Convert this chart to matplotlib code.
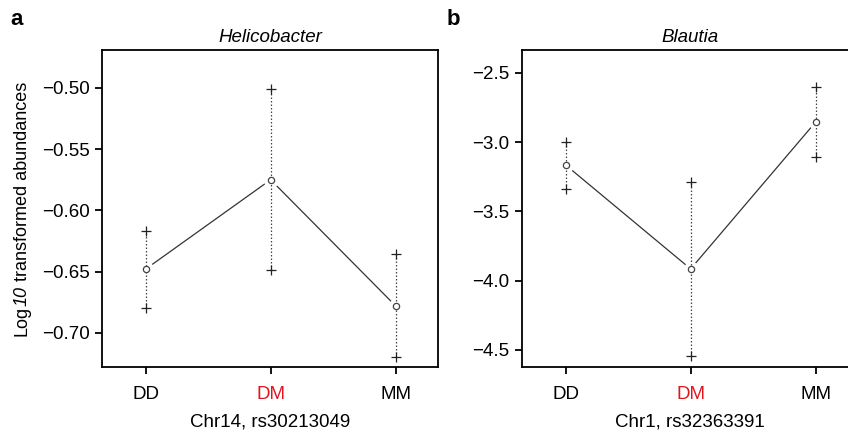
import numpy as np
import matplotlib.pyplot as plt

plt.rcParams['font.family'] = ['Liberation Sans', 'DejaVu Sans']

genotypes = ['DD', 'DM', 'MM']

# panel a - Helicobacter
heli_mean = [-0.648, -0.575, -0.678]
heli_upper = [-0.617, -0.501, -0.636]
heli_lower = [-0.680, -0.649, -0.720]

# panel b - Blautia
blau_mean = [-3.165, -3.915, -2.855]
blau_upper = [-3.00, -3.29, -2.60]
blau_lower = [-3.335, -4.545, -3.11]

fig = plt.figure(figsize=(8.48, 4.37), dpi=100)
ax1 = fig.add_axes([0.1203, 0.1602, 0.3962, 0.7254])
ax2 = fig.add_axes([0.6156, 0.1602, 0.3962, 0.7254])


def draw(ax, mean, upper, lower, title, xlabel, ylim, yticks, fmt):
    x = np.arange(1, len(mean) + 1)
    ax.plot(x, mean, color='#333333', lw=0.9, zorder=2)
    ax.plot(x, mean, 'o', ms=10, mfc='white', mec='white', zorder=3)
    ax.vlines(x, lower, upper, colors='#444444', linestyles=(0, (1.2, 1.6)), lw=0.9, zorder=4)
    ax.plot(x, upper, '+', color='#222222', ms=7, mew=0.9, zorder=5)
    ax.plot(x, lower, '+', color='#222222', ms=7, mew=0.9, zorder=5)
    ax.plot(x, mean, 'o', ms=4.5, mfc='white', mec='#444444', mew=0.9, zorder=6)
    ax.set_xlim(0.65, 3.34)
    ax.set_ylim(*ylim)
    ax.set_xticks(x)
    ax.set_xticklabels(genotypes)
    ax.get_xticklabels()[1].set_color('#e0161e')
    ax.set_yticks(yticks)
    ax.set_yticklabels([fmt.format(v).replace('-', '\u2212') for v in yticks])
    ax.tick_params(direction='out', length=5, width=1.3, labelsize=13.5, pad=4)
    ax.tick_params(axis='x', pad=9)
    for s in ax.spines.values():
        s.set_linewidth(1.3)
    ax.set_title(title, style='italic', fontsize=13.5, pad=6)
    ax.set_xlabel(xlabel, fontsize=13.5, labelpad=7)


draw(ax1, heli_mean, heli_upper, heli_lower, 'Helicobacter', 'Chr14, rs30213049',
     (-0.728, -0.469), [-0.70, -0.65, -0.60, -0.55, -0.50], '{:.2f}')
draw(ax2, blau_mean, blau_upper, blau_lower, 'Blautia', 'Chr1, rs32363391',
     (-4.623, -2.334), [-4.5, -4.0, -3.5, -3.0, -2.5], '{:.1f}')

# y label with italic "10": three rotated pieces stacked bottom to top
renderer = fig.canvas.get_renderer()
pieces = [('Log', 'normal'), ('10', 'italic'), (' transformed abundances', 'normal')]
texts = [fig.text(0.026, 0, s, rotation=90, fontsize=13, style=st,
                  ha='left', va='center', rotation_mode='anchor')
         for s, st in pieces]
heights = [t.get_window_extent(renderer).height for t in texts]
ycen = (0.1602 + 0.7254 / 2) * fig.bbox.height
y = ycen - sum(heights) / 2
for t, h in zip(texts, heights):
    t.set_position((0.026, y / fig.bbox.height))
    y += h

fig.text(0.012, 0.955, 'a', fontsize=16, fontweight='bold', va='center')
fig.text(0.527, 0.955, 'b', fontsize=16, fontweight='bold', va='center')

fig.savefig('out.png', dpi=100)
